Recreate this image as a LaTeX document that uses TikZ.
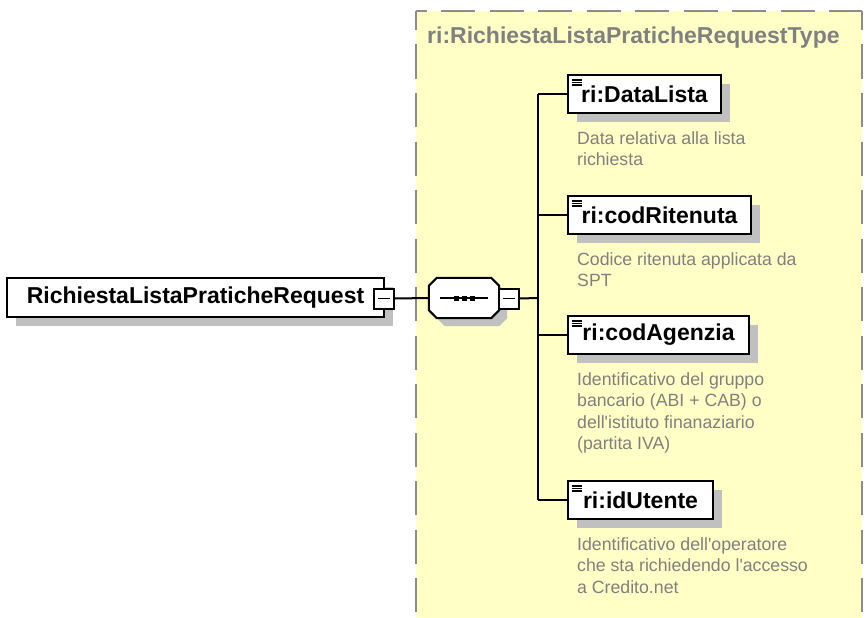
\documentclass[tikz,border=0pt]{standalone}
\usepackage{fontspec}
\setmainfont{Liberation Sans}
\usetikzlibrary{shadows,calc}
\definecolor{yel}{HTML}{FFFFC6}
\definecolor{shd}{HTML}{C0C0C0}
\definecolor{dsh}{HTML}{8C8C8C}
\definecolor{txtgray}{HTML}{808080}
\newcommand\octpath{([xshift=8pt]seq.north west) -- ([xshift=-8pt]seq.north east) -- ([yshift=-8pt]seq.north east) -- ([yshift=8pt]seq.south east) -- ([xshift=-8pt]seq.south east) -- ([xshift=8pt]seq.south west) -- ([yshift=8pt]seq.south west) -- ([yshift=-8pt]seq.north west) -- cycle}
\begin{document}
\begin{tikzpicture}[x=1pt,y=-1pt,
  boldfont/.style={font=\fontsize{23}{27}\selectfont\bfseries},
  shadowed/.style={general shadow={fill=shd, shadow xshift=8.5pt, shadow yshift=-8.5pt}},
  mainbox/.style={draw=black, fill=white, line width=2pt, inner sep=0pt, boldfont, shadowed},
  elem/.style={mainbox, minimum height=38pt,
    path picture={\foreach \d in {5,7.5,10} \draw[line width=1.2pt] ([xshift=4pt,yshift=-\d pt]path picture bounding box.north west) -- ++(9.5pt,0pt);}},
  minus/.style={draw=black, fill=white, line width=2pt, minimum width=20pt, minimum height=20pt, inner sep=0pt,
    path picture={\draw[line width=1.3pt] ([xshift=4pt]path picture bounding box.west) -- ([xshift=-4pt]path picture bounding box.east);}},
  seqbox/.style={minimum width=70pt, minimum height=40pt, inner sep=0pt},
  desc/.style={anchor=north west, inner sep=0pt, align=left, text=txtgray, font=\fontsize{17.7}{21.5}\selectfont},
  conn/.style={draw=black, line width=2pt},
  dashedge/.style={draw=dsh, line width=2pt, dash pattern=on 34pt off 14.5pt}]
\useasboundingbox (0,0) rectangle (867,618);
% complex type area
\fill[yel] (416,11) rectangle (862,618);
\draw[dashedge, dash phase=15pt] (416,11) -- (416,620);
\draw[dashedge, dash phase=23.5pt] (416,11) -- (862,11);
\draw[dashedge, dash phase=15pt] (862,11) -- (862,620);
\node[anchor=west, inner sep=0pt, text=txtgray, boldfont] (title) at (427,38) {ri:RichiestaListaPraticheRequestType};
% root element
\node[mainbox, minimum width=377pt, minimum height=39pt] (root) at (195.5,297.5) {RichiestaListaPraticheRequest};
\node[minus] (rootm) at (384,298.5) {};
% sequence
\node[seqbox] (seq) at (464,298) {};
\fill[shd, transform canvas={shift={(8pt,-8pt)}}] \octpath;
\draw[fill=white, line width=2pt] \octpath;
\draw[line width=1.5pt] ([xshift=-24pt]seq.center) -- ([xshift=24pt]seq.center);
\foreach \dx in {-8,0,8} \fill ([xshift=\dx pt]seq.center) ++(-2.5pt,-2.5pt) rectangle ++(5pt,5pt);
\node[minus] (seqm) at (508.5,298.5) {};
\coordinate (j) at (538,298);
% child elements
\node[elem, minimum width=153pt] (e1) at (644.5,94) {ri:DataLista};
\node[elem, minimum width=183pt] (e2) at (659.5,215) {ri:codRitenuta};
\node[elem, minimum width=181pt] (e3) at (658.5,335) {ri:codAgenzia};
\node[elem, minimum width=145pt] (e4) at (640.5,500) {ri:idUtente};
% descriptions
\node[desc] (d1) at (577,131) {Data relativa alla lista\\richiesta};
\node[desc] (d2) at (577,252) {Codice ritenuta applicata da\\SPT};
\node[desc] (d3) at (577,372) {Identificativo del gruppo\\bancario (ABI + CAB) o\\dell\textquotesingle istituto finanaziario\\(partita IVA)};
\node[desc] (d4) at (577,537) {Identificativo dell\textquotesingle operatore\\che sta richiedendo l\textquotesingle accesso\\a Credito.net};
% connectors
\draw[conn] (rootm.east) -- (seq.west);
\draw[conn] (seqm.east) -- (j);
\draw[conn] (j |- e1.west) -- (j |- e4.west);
\foreach \e in {e1,e2,e3,e4} \draw[conn] (j |- \e.west) -- (\e.west);
\end{tikzpicture}
\end{document}
